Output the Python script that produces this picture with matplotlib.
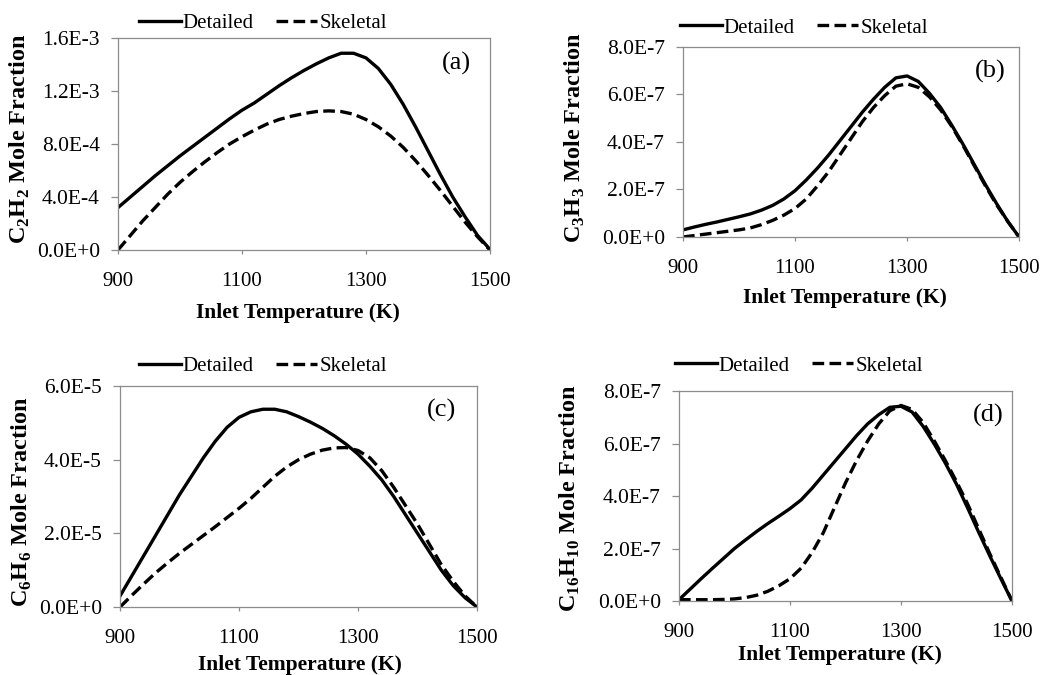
"""Detailed vs skeletal mechanism: species mole fraction vs inlet temperature (4 panels)."""

import matplotlib
matplotlib.use("Agg")
import matplotlib.pyplot as plt
import numpy as np

plt.rcParams["font.family"] = ["Liberation Serif", "DejaVu Serif"]
plt.rcParams["mathtext.fontset"] = "custom"
plt.rcParams["mathtext.rm"] = "Liberation Serif:bold"
plt.rcParams["mathtext.bf"] = "Liberation Serif:bold"

# inlet temperature (K), shared by every panel
temp = [900, 920, 940, 960, 980, 1000, 1020, 1040, 1060, 1080, 1100, 1120, 1140, 1160, 1180, 1200,
        1220, 1240, 1260, 1280, 1300, 1320, 1340, 1360, 1380, 1400, 1420, 1440, 1460, 1480, 1500]

# (a) C2H2, x1e-4
c2h2_detailed = [3.2, 4.0, 4.8, 5.6, 6.35, 7.1, 7.8, 8.5, 9.2, 9.9, 10.55, 11.1, 11.75, 12.4, 13.0, 13.55,
                 14.05, 14.5, 14.85, 14.85, 14.5, 13.7, 12.5, 11.0, 9.3, 7.5, 5.7, 4.0, 2.5, 1.1, 0.05]
c2h2_skeletal = [0.0, 1.1, 2.2, 3.2, 4.2, 5.1, 5.9, 6.65, 7.35, 8.0, 8.55, 9.05, 9.5, 9.85, 10.1, 10.3,
                 10.45, 10.5, 10.45, 10.25, 9.85, 9.3, 8.6, 7.75, 6.75, 5.65, 4.5, 3.3, 2.1, 1.0, 0.0]
# (b) C3H3, x1e-7
c3h3_detailed = [0.3, 0.42, 0.53, 0.63, 0.74, 0.85, 0.97, 1.13, 1.33, 1.6, 1.95, 2.4, 2.9, 3.45, 4.05, 4.65,
                 5.25, 5.8, 6.3, 6.7, 6.78, 6.55, 6.05, 5.45, 4.7, 3.9, 3.05, 2.2, 1.4, 0.65, 0.0]
c3h3_skeletal = [0.0, 0.06, 0.12, 0.18, 0.24, 0.3, 0.38, 0.52, 0.7, 0.92, 1.2, 1.6, 2.15, 2.75, 3.45, 4.15,
                 4.85, 5.45, 5.95, 6.35, 6.45, 6.3, 5.9, 5.35, 4.65, 3.85, 3.0, 2.15, 1.35, 0.65, 0.0]
# (c) C6H6, x1e-5
c6h6_detailed = [0.3, 0.85, 1.4, 1.95, 2.5, 3.05, 3.55, 4.05, 4.5, 4.88, 5.15, 5.3, 5.37, 5.37, 5.3, 5.17,
                 5.02, 4.85, 4.65, 4.42, 4.15, 3.82, 3.45, 3.0, 2.5, 2.0, 1.5, 1.0, 0.58, 0.25, 0.0]
c6h6_skeletal = [0.0, 0.32, 0.63, 0.93, 1.2, 1.46, 1.7, 1.94, 2.18, 2.43, 2.68, 2.95, 3.25, 3.55, 3.8, 4.0,
                 4.15, 4.26, 4.32, 4.33, 4.25, 4.05, 3.7, 3.25, 2.75, 2.25, 1.7, 1.15, 0.7, 0.3, 0.0]
# (d) C16H10, x1e-7
c16h10_detailed = [0.05, 0.45, 0.85, 1.24, 1.62, 2.0, 2.33, 2.65, 2.95, 3.23, 3.52, 3.85, 4.3, 4.8, 5.3, 5.8,
                   6.3, 6.75, 7.1, 7.38, 7.42, 7.2, 6.65, 5.98, 5.25, 4.45, 3.55, 2.62, 1.72, 0.85, 0.0]
c16h10_skeletal = [0.05, 0.05, 0.05, 0.05, 0.06, 0.08, 0.13, 0.22, 0.37, 0.58, 0.85, 1.25, 1.85, 2.6, 3.55, 4.5,
                   5.35, 6.1, 6.75, 7.25, 7.45, 7.3, 6.8, 6.1, 5.35, 4.55, 3.7, 2.75, 1.8, 0.9, 0.0]

x_ticks = [900, 1100, 1300, 1500]

panels = [
    # tag, ylabel, detailed, skeletal, scale, yticks, ytick labels
    ("(a)", r"C$_\mathbf{2}$H$_\mathbf{2}$ Mole Fraction", c2h2_detailed, c2h2_skeletal, 1e-4,
     [0, 4e-4, 8e-4, 1.2e-3, 1.6e-3], ["0.0E+0", "4.0E-4", "8.0E-4", "1.2E-3", "1.6E-3"]),
    ("(b)", r"C$_\mathbf{3}$H$_\mathbf{3}$ Mole Fraction", c3h3_detailed, c3h3_skeletal, 1e-7,
     [0, 2e-7, 4e-7, 6e-7, 8e-7], ["0.0E+0", "2.0E-7", "4.0E-7", "6.0E-7", "8.0E-7"]),
    ("(c)", r"C$_\mathbf{6}$H$_\mathbf{6}$ Mole Fraction", c6h6_detailed, c6h6_skeletal, 1e-5,
     [0, 2e-5, 4e-5, 6e-5], ["0.0E+0", "2.0E-5", "4.0E-5", "6.0E-5"]),
    ("(d)", r"C$_\mathbf{16}$H$_\mathbf{10}$ Mole Fraction", c16h10_detailed, c16h10_skeletal, 1e-7,
     [0, 2e-7, 4e-7, 6e-7, 8e-7], ["0.0E+0", "2.0E-7", "4.0E-7", "6.0E-7", "8.0E-7"]),
]

rects = [
    [0.1132, 0.6296, 0.3570, 0.3141],
    [0.6555, 0.6489, 0.3225, 0.2815],
    [0.1152, 0.1007, 0.3426, 0.3274],
    [0.6516, 0.1096, 0.3196, 0.3111],
]
legend_anchor = [(0.39, 1.07), (0.36, 1.10), (0.40, 1.09), (0.36, 1.12)]
tag_pos = [(0.91, 0.88), (0.915, 0.87), (0.90, 0.89), (0.93, 0.886)]
ylabel_xy = [(-0.263, 0.526), (-0.321, 0.52), (-0.2745, 0.475), (-0.327, 0.49)]
xlabel_xy = [(0.485, -0.297), (0.482, -0.321), (0.504, -0.262), (0.484, -0.257)]

fig = plt.figure(figsize=(10.42, 6.75), dpi=100)
frame = "#8c8c8c"

for i, (tag, ylab, det, ske, scale, yt, ytl) in enumerate(panels):
    ax = fig.add_axes(rects[i])
    ax.plot(temp, np.array(det) * scale, color="black", lw=2.4, label="Detailed",
            solid_joinstyle="round")
    ax.plot(temp, np.array(ske) * scale, color="black", lw=2.4, ls=(0, (3.5, 1.6)), label="Skeletal")
    ax.set_xlim(900, 1500)
    ax.set_ylim(yt[0], yt[-1])
    ax.set_xticks(x_ticks)
    ax.set_xticklabels([str(t) for t in x_ticks])
    ax.set_yticks(yt)
    ax.set_yticklabels(ytl)
    for s in ax.spines.values():
        s.set_color(frame)
        s.set_linewidth(0.9)
    ax.tick_params(axis="x", direction="out", length=3, width=0.9, color=frame,
                   labelsize=15, pad=13)
    ax.tick_params(axis="y", direction="out", length=5, width=0.9, color=frame,
                   labelsize=15.5, pad=8)
    ax.set_xlabel("Inlet Temperature (K)", fontsize=15.5, fontweight="bold")
    ax.set_ylabel(ylab, fontsize=17.5, fontweight="bold")
    ax.xaxis.set_label_coords(*xlabel_xy[i])
    ax.xaxis.label.set_verticalalignment("center")
    ax.yaxis.set_label_coords(*ylabel_xy[i])
    ax.yaxis.label.set_verticalalignment("center")
    ax.text(tag_pos[i][0], tag_pos[i][1], tag, transform=ax.transAxes, fontsize=19,
            ha="center", va="center")
    ax.legend(loc="center", bbox_to_anchor=legend_anchor[i], ncol=2, frameon=False,
              fontsize=15, handlelength=2.0, handletextpad=0.1, columnspacing=1.05,
              borderaxespad=0)

fig.savefig("out.png", dpi=100)
